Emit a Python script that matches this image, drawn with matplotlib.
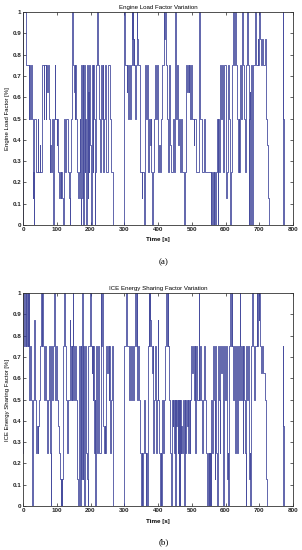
import matplotlib
matplotlib.use("Agg")
import matplotlib.pyplot as plt

# ---- data: change points (time [s], level) ----
load_t = [0, 1, 10, 18, 19, 20, 21, 22, 23, 24, 25, 27, 29, 30, 31, 32, 34, 38, 43, 45, 49, 50, 55, 57, 62, 63, 67, 68,
          72, 73, 74, 75, 76, 79, 81, 82, 86, 89, 91, 94, 96, 100, 101, 104, 107, 110, 112, 114, 116, 118, 120, 123,
          125, 128, 132, 136, 138, 140, 143, 146, 148, 152, 153, 154, 155, 156, 157, 158, 161, 163, 165, 168, 169,
          171, 173, 175, 177, 179, 181, 183, 185, 187, 188, 190, 192, 194, 195, 197, 199, 201, 203, 206, 208, 210,
          212, 214, 216, 219, 221, 224, 227, 230, 233, 236, 238, 241, 244, 247, 252, 258, 261, 267, 298, 302, 307,
          308, 312, 314, 318, 320, 322, 324, 325, 326, 329, 330, 332, 335, 338, 339, 341, 346, 352, 354, 358, 361,
          364, 367, 370, 374, 376, 378, 380, 383, 385, 388, 391, 394, 397, 400, 404, 405, 409, 412, 417, 419, 420,
          421, 422, 423, 427, 430, 434, 436, 438, 443, 446, 450, 452, 454, 456, 458, 460, 462, 464, 468, 471, 476,
          477, 478, 480, 483, 485, 486, 487, 488, 489, 490, 491, 492, 495, 498, 500, 506, 507, 514, 522, 524, 531,
          535, 538, 557, 558, 559, 560, 561, 563, 565, 566, 568, 570, 572, 575, 577, 579, 582, 585, 588, 591, 594,
          597, 600, 602, 603, 604, 605, 607, 610, 612, 614, 616, 618, 622, 624, 625, 626, 627, 628, 629, 631, 634,
          637, 639, 641, 643, 646, 648, 650, 652, 656, 658, 661, 664, 666, 669, 670, 671, 672, 673, 674, 675, 676,
          677, 679, 681, 687, 690, 695, 697, 700, 702, 704, 708, 711, 716, 719, 721, 723, 725, 727, 729, 770, 771,
          772]
load_v = [0, 1, 0.75, 0.5, 0.75, 0.5, 0.75, 0.5, 0.75, 0.5, 0.75, 0.5, 0.25, 0.125, 0.25, 0, 0.5, 0.25, 0.5, 0.25,
          0.375, 0.25, 0.5, 0.75, 0.5, 0.75, 0.5, 0.75, 0.625, 0.75, 0.625, 0.75, 0.5, 0.25, 0.375, 0.25, 0.5, 0,
          0.5, 0.75, 0.5, 0.375, 0.5, 0.25, 0.125, 0.25, 0.125, 0.25, 0.125, 0, 0.5, 0.375, 0.25, 0.5, 0.25, 0.125,
          0, 0.25, 0.5, 1, 0.75, 0.625, 0.75, 0.5, 0.75, 0.625, 0.75, 0.5, 0.25, 0.125, 0.25, 0.5, 0.125, 0, 0.75,
          0.125, 0.75, 0, 0.75, 0.25, 0.5, 0.125, 0, 0.75, 0.125, 0.625, 0.25, 0.75, 0.375, 0, 0.75, 0.25, 0.75,
          0.5, 0, 0.25, 0.75, 1, 0.75, 0.5, 0.25, 0.75, 0.5, 0.75, 0.25, 0.5, 0.75, 0.25, 0.75, 0.5, 0.25, 0, 1,
          0.75, 0.625, 0.75, 0.5, 0.75, 0.5, 0.75, 1, 0.875, 1, 0.75, 0.875, 0.75, 0.5, 0.75, 1, 0.875, 0.75, 0.25,
          0.125, 0.25, 0, 0.75, 0.5, 0.75, 0.25, 0.5, 0.375, 0.5, 0.25, 0, 0.25, 0.5, 0.75, 0.5, 0.75, 0.25, 0.375,
          0.25, 0.5, 0.75, 1, 0.875, 1, 0.875, 1, 0.75, 0.5, 0.25, 0.75, 0.375, 0.25, 0.5, 0.25, 1, 0.75, 0.5, 0.75,
          0.5, 0.375, 0.5, 0.25, 0.5, 0.25, 0, 0.25, 0, 0.25, 0.75, 0.625, 0.75, 0.625, 0.75, 0.625, 0.75, 0.625,
          0.75, 0.5, 0.75, 0.5, 0.375, 0.5, 0.25, 1, 0.5, 0.25, 0.5, 0.25, 0, 0.25, 0, 0.25, 0, 0.25, 0, 0.25,
          0.125, 0, 0.25, 0.5, 0, 0.5, 0.25, 0.75, 0.5, 0.75, 0.25, 0.75, 0.5, 0.125, 0.25, 0.125, 0.25, 0.75, 0.5,
          0.25, 0, 0.25, 0.75, 1, 0.75, 1, 0.75, 1, 0.75, 1, 0.75, 0.5, 0.25, 0.5, 0.25, 0.75, 0.5, 0.75, 1, 0.75,
          0.5, 0.25, 0.75, 1, 0.75, 0.5, 0, 0.5, 0.125, 0.625, 0, 0.75, 0.25, 0.75, 0, 0.75, 1, 0.75, 0.875, 0.75,
          1, 0.875, 0.75, 0.875, 0.75, 0.875, 0.625, 0.5, 0.375, 0.25, 0.125, 0, 1, 0.5, 0]

ice_t = [0, 1, 3, 6, 8, 10, 11, 12, 13, 14, 15, 16, 17, 18, 19, 20, 21, 22, 24, 26, 28, 31, 34, 36, 38, 39, 40, 41,
         42, 43, 44, 46, 50, 53, 55, 57, 58, 62, 65, 67, 72, 75, 78, 80, 82, 84, 86, 88, 91, 92, 93, 94, 96, 99, 100,
         104, 106, 110, 112, 113, 115, 117, 119, 122, 124, 127, 130, 134, 138, 140, 143, 145, 146, 147, 148, 149,
         150, 151, 152, 153, 156, 159, 161, 163, 165, 167, 169, 171, 173, 175, 177, 179, 181, 183, 186, 188, 190,
         192, 194, 198, 200, 203, 204, 206, 208, 210, 212, 214, 216, 218, 221, 224, 226, 230, 232, 233, 234, 235,
         236, 237, 238, 239, 240, 241, 242, 243, 246, 249, 251, 254, 256, 259, 262, 264, 266, 268, 298, 306, 308,
         313, 316, 320, 323, 326, 328, 332, 334, 337, 339, 342, 345, 348, 351, 352, 354, 356, 358, 361, 364, 365,
         367, 369, 372, 374, 376, 377, 379, 382, 384, 386, 389, 392, 395, 397, 399, 401, 404, 406, 408, 410, 412,
         415, 418, 422, 425, 427, 429, 430, 433, 436, 438, 440, 443, 445, 447, 449, 451, 452, 454, 456, 458, 460,
         462, 463, 464, 465, 467, 468, 469, 470, 471, 472, 473, 474, 476, 477, 478, 479, 481, 483, 486, 488, 490,
         492, 494, 496, 499, 501, 503, 506, 509, 511, 514, 517, 520, 522, 525, 528, 531, 534, 537, 540, 543, 546,
         547, 548, 549, 550, 552, 554, 555, 556, 558, 561, 563, 566, 568, 570, 573, 575, 577, 580, 583, 585, 588,
         590, 593, 595, 598, 600, 603, 605, 606, 607, 608, 610, 613, 615, 616, 617, 618, 620, 623, 625, 628, 630,
         633, 635, 637, 640, 642, 644, 646, 648, 651, 653, 656, 658, 660, 662, 665, 667, 669, 670, 671, 672, 673,
         675, 678, 680, 684, 687, 692, 694, 696, 698, 700, 702, 706, 708, 712, 716, 719, 721, 723, 770, 771, 772]
ice_v = [0.25, 1, 0.75, 1, 0.75, 1, 0.875, 1, 0.75, 1, 0.875, 0.75, 1, 0.75, 0.5, 0.75, 0.5, 0.75, 0.5, 0.25, 0,
         0.5, 0.875, 0.5, 0.375, 0.25, 0.375, 0.25, 0.375, 0.25, 0.375, 0.5, 0.75, 1, 0.75, 1, 0.75, 0.5, 0.75,
         0.5, 0.25, 0.5, 0.75, 0.25, 0, 0.75, 0.5, 0.75, 1, 0.75, 1, 0.75, 0.5, 0.75, 0.5, 0.375, 0.25, 0.125, 0,
         0.125, 0, 0.125, 0.75, 1, 0.75, 0.5, 0.25, 0.5, 0.875, 0.75, 0.5, 0.75, 0.5, 0.75, 1, 0.75, 0.5, 0.75,
         0.5, 0.75, 0.5, 0.25, 0.125, 0, 0.125, 0.75, 0, 0.75, 0.125, 1, 0.125, 0.75, 0, 0.75, 0.5, 0.25, 0.125,
         0, 0.75, 1, 0.75, 0.625, 0.75, 0.5, 0.75, 0.25, 0.5, 0, 0.75, 0.25, 0.75, 0.5, 0.25, 1, 0.75, 1, 0.75, 1,
         0.875, 0.75, 0.375, 0.25, 0.375, 0.25, 0.375, 0.25, 0.75, 0.625, 0.75, 0.5, 0.75, 0.25, 0.5, 0.75, 0.25,
         0, 0.75, 1, 0.75, 0.5, 0.75, 0.5, 0.75, 0.5, 0.75, 1, 0.75, 1, 0.5, 0.75, 0.5, 0.25, 0, 0.25, 0, 0.25,
         0.5, 0.25, 0, 0.25, 0, 0.75, 1, 0.75, 1, 0.875, 0.75, 0.625, 0.75, 0.25, 0.5, 0.75, 0.25, 0.5, 0.875, 0.5,
         0.25, 0, 0.25, 0, 0.5, 0.25, 0.5, 0.75, 1, 0.75, 1, 0.75, 0.5, 0.25, 0, 0.5, 0.375, 0.5, 0.25, 0.5, 0,
         0.5, 0.375, 0.5, 0.25, 0.5, 0, 0.5, 0, 0.5, 0.375, 0.25, 0.375, 0.25, 0.375, 0.25, 0.375, 0.5, 0, 0.5, 0,
         0.5, 0.25, 0.5, 0.375, 0.5, 0.25, 0.5, 0.25, 0.5, 0.75, 0.625, 0.75, 0.5, 0.75, 0.25, 0.75, 0.5, 1, 0.5,
         0.75, 0.5, 0.25, 0.5, 0.75, 0.5, 0.25, 0, 0.25, 0, 0.25, 0, 0.25, 0, 0.25, 0, 0.5, 0.25, 0.75, 0.5, 0.125,
         0.75, 0.25, 0, 0.75, 0.5, 0.25, 0.75, 0.625, 0.75, 0, 0.75, 0.5, 0.75, 0.25, 0.125, 0.25, 0.125, 0, 0.75,
         1, 0.75, 1, 0.75, 1, 0.75, 0.5, 0.75, 0.25, 0.75, 0.5, 0.25, 0.75, 0.5, 1, 0.75, 0.5, 0.75, 0.25, 0.75,
         0.5, 0.25, 0, 0.75, 0.5, 0.75, 0.125, 0.25, 0.125, 0.25, 0, 0.75, 1, 0.75, 0.5, 0.75, 1, 0.75, 1, 0.875,
         1, 0.75, 0.625, 0.75, 0.625, 0.5, 0.25, 0.125, 0, 0.75, 0.375, 0]

panels = [
    dict(t=load_t, v=load_v, title="Engine Load Factor Variation",
         ylabel="Engine Load Factor [%]", tag="(a)"),
    dict(t=ice_t, v=ice_v, title="ICE Energy Sharing Factor Variation",
         ylabel="ICE Energy Sharing Factor [%]", tag="(b)"),
]
x_ticks = [0, 100, 200, 300, 400, 500, 600, 700, 800]
y_ticks = [0, 0.1, 0.2, 0.3, 0.4, 0.5, 0.6, 0.7, 0.8, 0.9, 1]
y_labels = ["0", "0.1", "0.2", "0.3", "0.4", "0.5", "0.6", "0.7", "0.8", "0.9", "1"]

W, H = 302, 550
fig = plt.figure(figsize=(W / 100, H / 100), dpi=100)
fig.patch.set_facecolor("white")

fam = ["Liberation Sans", "DejaVu Sans"]
# axes pixel boxes: (left, top, right, bottom)
boxes = [(23, 12, 293, 225), (23, 293, 293, 506)]
label_y = [240, 521]
tag_y = [262, 542]

for p, (l, t, r, b), ly, ty in zip(panels, boxes, label_y, tag_y):
    ax = fig.add_axes([l / W, 1 - b / H, (r - l) / W, (b - t) / H])
    ax.step(p["t"], p["v"], where="post", color="#343a94", lw=0.6, alpha=0.9)
    ax.set_xlim(0, 800)
    ax.set_ylim(0, 1)
    ax.set_xticks(x_ticks)
    ax.set_xticklabels([str(x) for x in x_ticks], fontsize=4.5, family=fam, fontweight="bold")
    ax.set_yticks(y_ticks)
    ax.set_yticklabels(y_labels, fontsize=4.5, family=fam, fontweight="bold")
    ax.tick_params(direction="in", length=2, width=0.5, pad=1.2, top=True, right=True,
                   colors="#222222")
    for s in ax.spines.values():
        s.set_linewidth(0.6)
        s.set_color("#333333")
    ax.set_title(p["title"], fontsize=4.4, family=fam, pad=2.5)
    ax.set_ylabel(p["ylabel"], fontsize=4.3, family=fam, labelpad=1.5)
    fig.text((l + r) / 2 / W, 1 - ly / H, "Time [s]", ha="center", va="center",
             fontsize=4.5, family=fam, fontweight="bold")
    fig.text((l + r) / 2 / W + 0.02, 1 - ty / H, p["tag"], ha="center", va="center",
             fontsize=6.5, family=["Liberation Serif", "DejaVu Serif"])

fig.savefig("out.png", dpi=100, facecolor="white")
